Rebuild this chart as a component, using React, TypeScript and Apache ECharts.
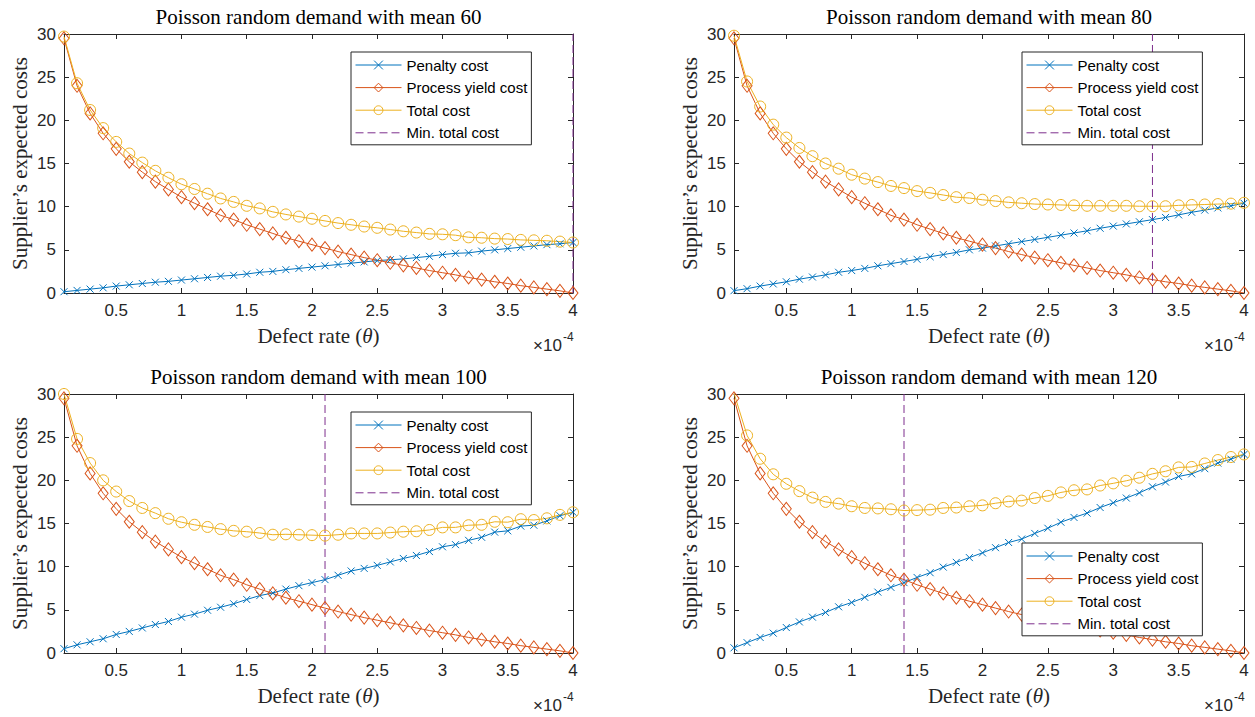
import React, { useEffect, useRef } from 'react';
import * as echarts from 'echarts';

// ---------- DATA ----------
const theta = [0.1, 0.2, 0.3, 0.4, 0.5, 0.6, 0.7, 0.8, 0.9, 1.0, 1.1, 1.2, 1.3, 1.4, 1.5, 1.6, 1.7, 1.8, 1.9, 2.0,
  2.1, 2.2, 2.3, 2.4, 2.5, 2.6, 2.7, 2.8, 2.9, 3.0, 3.1, 3.2, 3.3, 3.4, 3.5, 3.6, 3.7, 3.8, 3.9, 4.0];
const xTickValues = [0.5, 1, 1.5, 2, 2.5, 3, 3.5, 4];

const processYieldCost = [29.5, 24.0, 20.8, 18.5, 16.7, 15.2, 14.0, 12.9, 12.0, 11.1, 10.4, 9.7, 9.0, 8.5, 7.9, 7.4, 6.9, 6.4, 6.0, 5.6,
  5.2, 4.8, 4.45, 4.1, 3.8, 3.5, 3.2, 2.9, 2.6, 2.35, 2.1, 1.8, 1.55, 1.3, 1.1, 0.85, 0.65, 0.45, 0.25, 0.0];

const penalty60 = [0.15, 0.3, 0.45, 0.6, 0.8, 0.95, 1.1, 1.25, 1.35, 1.5, 1.65, 1.8, 1.95, 2.05, 2.2, 2.4, 2.5, 2.7, 2.85, 3.0,
  3.15, 3.3, 3.45, 3.6, 3.75, 3.85, 3.95, 4.1, 4.25, 4.45, 4.6, 4.65, 4.85, 5.0, 5.15, 5.3, 5.45, 5.6, 5.7, 5.85];
const total60 = [29.7, 24.3, 21.2, 19.1, 17.5, 16.15, 15.1, 14.15, 13.35, 12.6, 12.05, 11.5, 10.95, 10.55, 10.1, 9.8, 9.4, 9.1, 8.85, 8.6,
  8.35, 8.1, 7.9, 7.7, 7.55, 7.35, 7.15, 7.0, 6.85, 6.8, 6.7, 6.45, 6.4, 6.3, 6.25, 6.15, 6.1, 6.05, 5.95, 5.85];

const penalty80 = [0.27, 0.5, 0.8, 1.05, 1.3, 1.6, 1.85, 2.1, 2.4, 2.6, 2.85, 3.15, 3.4, 3.65, 3.9, 4.2, 4.45, 4.7, 5.0, 5.2,
  5.45, 5.7, 5.95, 6.2, 6.45, 6.7, 6.95, 7.2, 7.5, 7.75, 8.0, 8.25, 8.5, 8.75, 9.05, 9.35, 9.6, 9.85, 10.1, 10.4];
const total80 = [29.8, 24.5, 21.6, 19.5, 18.0, 16.8, 15.85, 15.0, 14.4, 13.7, 13.25, 12.85, 12.4, 12.15, 11.8, 11.6, 11.35, 11.1, 11.0, 10.8,
  10.65, 10.5, 10.4, 10.3, 10.25, 10.2, 10.15, 10.1, 10.1, 10.1, 10.1, 10.05, 10.05, 10.05, 10.15, 10.2, 10.25, 10.3, 10.35, 10.45];

const penalty100 = [0.5, 0.95, 1.3, 1.65, 2.15, 2.5, 2.9, 3.3, 3.65, 4.15, 4.5, 4.95, 5.3, 5.7, 6.2, 6.65, 6.95, 7.4, 7.8, 8.15,
  8.5, 9.0, 9.5, 9.8, 10.15, 10.55, 10.95, 11.3, 11.75, 12.3, 12.55, 13.05, 13.4, 14.0, 14.15, 14.7, 14.8, 15.3, 15.9, 16.3];
const total100 = [30.0, 24.8, 22.0, 20.0, 18.7, 17.6, 16.8, 16.2, 15.55, 15.15, 14.85, 14.6, 14.35, 14.15, 14.05, 13.9, 13.7, 13.75, 13.7, 13.65,
  13.6, 13.7, 13.85, 13.85, 13.85, 13.95, 14.05, 14.1, 14.25, 14.55, 14.55, 14.8, 14.85, 15.2, 15.15, 15.5, 15.4, 15.6, 16.0, 16.3];

const penalty120 = [0.6, 1.2, 1.8, 2.3, 2.95, 3.6, 4.15, 4.7, 5.35, 5.85, 6.45, 7.05, 7.6, 8.15, 8.75, 9.3, 9.95, 10.5, 11.05, 11.6,
  12.2, 12.8, 13.2, 13.85, 14.45, 15.15, 15.7, 16.2, 16.85, 17.4, 17.95, 18.55, 19.25, 19.8, 20.45, 20.75, 21.35, 22.0, 22.45, 23.0];
const total120 = [30.1, 25.2, 22.5, 20.7, 19.6, 18.75, 18.0, 17.5, 17.3, 17.0, 16.8, 16.75, 16.65, 16.5, 16.55, 16.6, 16.8, 16.85, 17.0, 17.1,
  17.35, 17.55, 17.65, 17.95, 18.2, 18.6, 18.85, 18.95, 19.4, 19.65, 19.95, 20.3, 20.75, 21.05, 21.5, 21.55, 21.95, 22.35, 22.7, 23.0];

const demandMeans = [60, 80, 100, 120];
const penaltySeries = [penalty60, penalty80, penalty100, penalty120];
const totalSeries = [total60, total80, total100, total120];
const minTotalTheta = [4.0, 3.3, 2.1, 1.4];

const seriesNames = ['Penalty cost', 'Process yield cost', 'Total cost', 'Min. total cost'];

// ---------- STYLE / LAYOUT ----------
const SANS = "'Liberation Sans', Arial, Helvetica, sans-serif";
const SERIF = "'Liberation Serif', 'Times New Roman', serif";
const AXIS = '#262626';
const BLUE = '#0072BD';
const ORANGE = '#D95319';
const YELLOW = '#EDB120';
const PURPLE = '#7E2F8E';
const CLEAR = 'rgba(255,255,255,0)';
const CROSS = 'path://M0,0L10,10M0,10L10,0';

const grids = [
  { left: 64, top: 34, width: 509, height: 259 },
  { left: 734, top: 34, width: 510, height: 259 },
  { left: 64, top: 394, width: 509, height: 259 },
  { left: 734, top: 394, width: 510, height: 259 },
];
const legendPos = [
  { left: 351, top: 52 },
  { left: 1022, top: 52 },
  { left: 351, top: 412 },
  { left: 1022, top: 543 },
];

function buildOption() {
  const xAxis: any[] = [];
  const yAxis: any[] = [];
  const series: any[] = [];
  const legend: any[] = [];
  const graphic: any[] = [];

  grids.forEach((g, i) => {
    xAxis.push({
      type: 'value', gridIndex: i, min: 0.1, max: 4, position: 'bottom',
      axisLine: { show: true, onZero: false, lineStyle: { color: AXIS, width: 1 } },
      axisTick: { show: true, inside: true, length: 5, customValues: xTickValues, lineStyle: { color: AXIS } },
      axisLabel: { customValues: xTickValues, color: AXIS, fontSize: 17, fontFamily: SANS, margin: 9 },
      splitLine: { show: false },
      name: 'Defect rate ({it|θ})', nameLocation: 'middle', nameGap: 32,
      nameTextStyle: {
        fontFamily: SERIF, fontSize: 21, color: AXIS,
        rich: { it: { fontFamily: SERIF, fontSize: 21, fontStyle: 'italic', color: AXIS } },
      },
    });
    xAxis.push({
      type: 'value', gridIndex: i, min: 0.1, max: 4, position: 'top',
      axisLine: { show: true, onZero: false, lineStyle: { color: AXIS, width: 1 } },
      axisTick: { show: true, inside: true, length: 5, customValues: xTickValues, lineStyle: { color: AXIS } },
      axisLabel: { show: false },
      splitLine: { show: false },
    });
    yAxis.push({
      type: 'value', gridIndex: i, min: 0, max: 30, interval: 5, position: 'left',
      axisLine: { show: true, onZero: false, lineStyle: { color: AXIS, width: 1 } },
      axisTick: { show: true, inside: true, length: 5, lineStyle: { color: AXIS } },
      axisLabel: { color: AXIS, fontSize: 17, fontFamily: SANS, margin: 8 },
      splitLine: { show: false },
      name: 'Supplier’s expected costs', nameLocation: 'middle', nameGap: 34,
      nameTextStyle: { fontFamily: SERIF, fontSize: 21, color: AXIS },
    });
    yAxis.push({
      type: 'value', gridIndex: i, min: 0, max: 30, interval: 5, position: 'right',
      axisLine: { show: true, onZero: false, lineStyle: { color: AXIS, width: 1 } },
      axisTick: { show: true, inside: true, length: 5, lineStyle: { color: AXIS } },
      axisLabel: { show: false },
      splitLine: { show: false },
    });

    const xi = 2 * i;
    const yi = 2 * i;
    series.push({
      name: seriesNames[0], type: 'line', xAxisIndex: xi, yAxisIndex: yi,
      data: theta.map((t, k) => [t, penaltySeries[i][k]]),
      symbol: CROSS, symbolSize: 7,
      lineStyle: { color: BLUE, width: 1 },
      itemStyle: { color: BLUE, borderColor: BLUE, borderWidth: 1 },
    });
    series.push({
      name: seriesNames[1], type: 'line', xAxisIndex: xi, yAxisIndex: yi,
      data: theta.map((t, k) => [t, processYieldCost[k]]),
      symbol: 'diamond', symbolSize: [10, 13],
      lineStyle: { color: ORANGE, width: 1 },
      itemStyle: { color: CLEAR, borderColor: ORANGE, borderWidth: 1 },
    });
    series.push({
      name: seriesNames[2], type: 'line', xAxisIndex: xi, yAxisIndex: yi,
      data: theta.map((t, k) => [t, totalSeries[i][k]]),
      symbol: 'circle', symbolSize: 11,
      lineStyle: { color: YELLOW, width: 1 },
      itemStyle: { color: CLEAR, borderColor: YELLOW, borderWidth: 1 },
    });
    series.push({
      name: seriesNames[3], type: 'line', xAxisIndex: xi, yAxisIndex: yi,
      data: [[minTotalTheta[i], 0], [minTotalTheta[i], 30]],
      symbol: 'none',
      lineStyle: { color: PURPLE, width: 1, type: [8, 4] },
      itemStyle: { color: PURPLE },
    });

    legend.push({
      orient: 'vertical', left: legendPos[i].left, top: legendPos[i].top, z: 20,
      data: [
        { name: seriesNames[0], itemStyle: { color: CLEAR, borderColor: BLUE, borderWidth: 1 } },
        { name: seriesNames[1], itemStyle: { color: CLEAR, borderColor: ORANGE, borderWidth: 1 } },
        { name: seriesNames[2], itemStyle: { color: CLEAR, borderColor: YELLOW, borderWidth: 1 } },
        { name: seriesNames[3], itemStyle: { color: CLEAR, borderColor: CLEAR, borderWidth: 0, opacity: 0 } },
      ],
      backgroundColor: '#ffffff', borderColor: AXIS, borderWidth: 1, borderRadius: 0,
      padding: [4, 4, 3, 4],
      itemWidth: 46, itemHeight: 11, itemGap: 4.6,
      selectedMode: false,
      lineStyle: { width: 1 },
      textStyle: { fontFamily: SANS, fontSize: 15, color: '#000', lineHeight: 18 },
    });

    const cx = g.left + g.width / 2;
    graphic.push({
      type: 'text', x: cx, y: g.top - 17,
      style: {
        text: `Poisson random demand with mean ${demandMeans[i]}`,
        fontFamily: SERIF, fontSize: 21, fill: '#000', align: 'center', verticalAlign: 'middle',
      },
    });
    const rx = g.left + g.width;
    const by = g.top + g.height;
    graphic.push({
      type: 'text', x: rx - 40, y: by + 52,
      style: { text: '×10', fontFamily: SANS, fontSize: 17, fill: AXIS, align: 'left', verticalAlign: 'middle' },
    });
    graphic.push({
      type: 'text', x: rx - 10, y: by + 44,
      style: { text: '-4', fontFamily: SANS, fontSize: 12, fill: AXIS, align: 'left', verticalAlign: 'middle' },
    });
  });

  return {
    animation: false,
    backgroundColor: '#ffffff',
    grid: grids.map((g) => ({ ...g, containLabel: false })),
    xAxis, yAxis, series, legend, graphic,
  };
}

export default function App() {
  const ref = useRef<HTMLDivElement>(null);
  useEffect(() => {
    if (!ref.current) return;
    const chart = echarts.init(ref.current, undefined, { renderer: 'svg' });
    chart.setOption(buildOption() as any);
    return () => chart.dispose();
  }, []);
  return <div ref={ref} style={{ position: 'fixed', left: 0, top: 0, width: 1255, height: 717, background: '#fff' }} />;
}
